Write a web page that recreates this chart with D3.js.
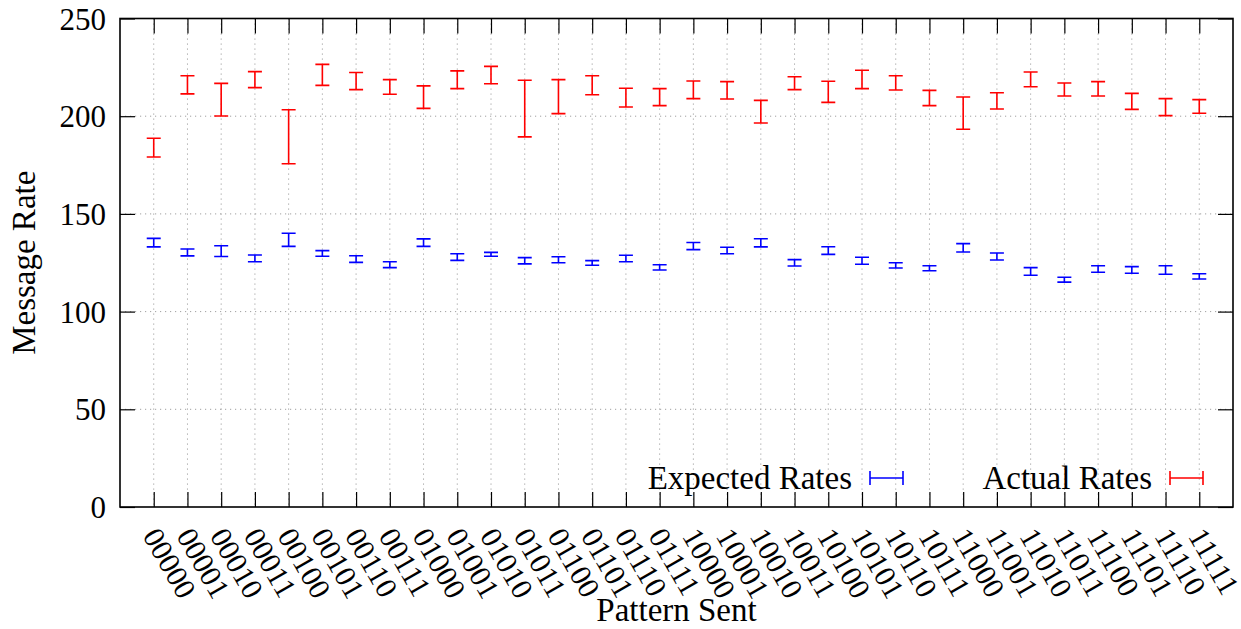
<!DOCTYPE html>
<html>
<head>
<meta charset="utf-8">
<script src="https://cdn.jsdelivr.net/npm/d3@7"></script>
<style>
  html, body { margin: 0; padding: 0; background: #fff; }
  svg { display: block; }
  text { font-family: "Liberation Serif", "Times New Roman", serif; fill: #000; }
</style>
</head>
<body>
<svg id="chart" width="1241" height="629"></svg>
<script>
const patterns = ["00000","00001","00010","00011","00100","00101","00110","00111",
  "01000","01001","01010","01011","01100","01101","01110","01111",
  "10000","10001","10010","10011","10100","10101","10110","10111",
  "11000","11001","11010","11011","11100","11101","11110","11111"];

const expectedHigh = [137.5,132.0,133.7,129.0,140.1,131.2,128.6,125.5,137.2,129.6,130.3,127.6,128.1,126.1,128.8,124.0,
  135.4,132.9,137.3,126.6,133.2,127.8,125.0,123.5,134.8,130.0,122.5,117.6,123.5,123.0,123.5,119.4];
const expectedLow = [133.1,128.5,128.2,125.5,133.4,128.3,125.2,122.5,133.4,126.2,128.3,124.4,125.0,123.7,125.5,121.3,
  131.7,129.6,133.1,123.3,129.3,124.2,122.3,120.9,130.5,126.4,118.6,115.1,120.1,119.6,119.1,116.7];

const actualHigh = [188.7,220.7,216.8,222.8,203.3,226.5,222.4,218.7,215.5,223.2,225.5,218.4,218.7,220.7,214.3,214.1,
  218.0,217.7,208.1,220.2,217.9,223.5,220.7,213.2,209.8,212.0,222.6,217.0,217.7,211.7,209.0,208.5];
const actualLow = [179.1,211.4,200.1,214.6,175.7,215.8,213.6,211.2,204.0,214.1,216.6,189.4,201.3,211.0,204.7,205.4,
  209.0,208.8,196.5,213.6,207.1,214.1,213.4,205.4,193.3,203.7,215.1,210.3,210.3,203.5,200.3,201.5];

const yTicks = [0, 50, 100, 150, 200, 250];
const seriesNames = ["Expected Rates", "Actual Rates"];
const seriesColors = ["#0000ff", "#ff0000"];

const svg = d3.select("#chart");
const L = 120, R = 1233, T = 18.5, B = 507;
const x = d3.scaleLinear().domain([-1, patterns.length]).range([L, R]);
const y = d3.scaleLinear().domain([0, 250]).range([B, T]);
const idx = d3.range(patterns.length);

// grid
const grid = svg.append("g").attr("stroke", "#a0a0a0").attr("stroke-width", 1)
  .attr("stroke-dasharray", "1.2,3.8");
grid.selectAll("line.v").data(idx).join("line")
  .attr("x1", d => x(d)).attr("x2", d => x(d))
  .attr("y1", T).attr("y2", B);
grid.selectAll("line.h").data(yTicks.slice(1, -1)).join("line")
  .attr("x1", L).attr("x2", R)
  .attr("y1", d => y(d)).attr("y2", d => y(d));

// axes (inward ticks)
const tickLen = 15;
const axL = svg.append("g").attr("transform", `translate(${L},0)`)
  .call(d3.axisLeft(y).tickValues(yTicks).tickSize(-tickLen).tickPadding(tickLen - 1));
const axR = svg.append("g").attr("transform", `translate(${R},0)`)
  .call(d3.axisRight(y).tickValues(yTicks).tickSize(-tickLen).tickFormat(""));
const axB = svg.append("g").attr("transform", `translate(0,${B})`)
  .call(d3.axisBottom(x).tickValues(idx).tickSize(-tickLen).tickFormat(i => patterns[i]));
const axT = svg.append("g").attr("transform", `translate(0,${T})`)
  .call(d3.axisTop(x).tickValues(idx).tickSize(-tickLen).tickFormat(""));
[axL, axR, axB, axT].forEach(a => {
  a.select(".domain").remove();
  a.selectAll(".tick line").attr("stroke", "#000").attr("stroke-width", 1.2);
});
axL.selectAll("text").attr("font-size", 31).attr("font-family", "Liberation Serif").attr("fill", "#000")
  .attr("x", -(tickLen - 1)).attr("dy", "0.34em");
axB.selectAll("text")
  .attr("font-size", 30).attr("font-family", "Liberation Serif").attr("fill", "#000")
  .attr("text-anchor", "start")
  .attr("y", 0).attr("dy", "0.32em")
  .attr("transform", "translate(-4,24) rotate(60)");

// border
svg.append("rect").attr("x", L).attr("y", T).attr("width", R - L).attr("height", B - T)
  .attr("fill", "none").attr("stroke", "#000").attr("stroke-width", 1.6);

// error bars
const capW = 7;
function drawBars(lo, hi, color) {
  const g = svg.append("g").attr("stroke", color).attr("stroke-width", 1.6).attr("fill", "none");
  g.selectAll("path").data(idx).join("path")
    .attr("d", i => {
      const cx = x(i), y1 = y(hi[i]), y0 = y(lo[i]);
      return `M${cx},${y0}V${y1}M${cx - capW},${y1}H${cx + capW}M${cx - capW},${y0}H${cx + capW}`;
    });
}
drawBars(expectedLow, expectedHigh, seriesColors[0]);
drawBars(actualLow, actualHigh, seriesColors[1]);

// legend
const legend = [
  {name: seriesNames[0], color: seriesColors[0], textX: 852, x1: 870, x2: 903},
  {name: seriesNames[1], color: seriesColors[1], textX: 1152, x1: 1170, x2: 1203}
];
const legY = 478;
legend.forEach(l => {
  svg.append("text").attr("x", l.textX).attr("y", legY + 11).attr("text-anchor", "end")
    .attr("font-size", 33).text(l.name);
  svg.append("path").attr("stroke", l.color).attr("stroke-width", 1.6).attr("fill", "none")
    .attr("d", `M${l.x1},${legY}H${l.x2}M${l.x1},${legY - 7}V${legY + 7}M${l.x2},${legY - 7}V${legY + 7}`);
});

// axis titles
svg.append("text").attr("x", (L + R) / 2).attr("y", 621).attr("text-anchor", "middle")
  .attr("font-size", 33).text("Pattern Sent");
svg.append("text").attr("transform", `translate(35,${(T + B) / 2}) rotate(-90)`)
  .attr("text-anchor", "middle").attr("font-size", 33).text("Message Rate");
</script>
</body>
</html>
